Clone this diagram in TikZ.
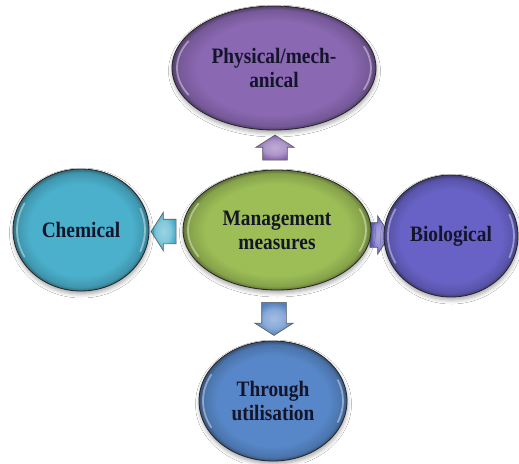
\documentclass[tikz,border=0pt]{standalone}
\usepackage{fontspec}
\setmainfont{Liberation Serif}[FakeStretch=0.88]
\usetikzlibrary{shapes.geometric,shapes.arrows,shadows.blur,calc}

\definecolor{cPhys}{HTML}{8A68B2}
\definecolor{cMgmt}{HTML}{9DBE57}
\definecolor{cChem}{HTML}{4BB0CC}
\definecolor{cBio}{HTML}{6862C6}
\definecolor{cUtil}{HTML}{5787C8}
\definecolor{ink}{HTML}{14142A}

% flat fill with a darker rim near the border
\newcommand\rimshading[2]{%
  \pgfdeclareradialshading{#1}{\pgfpoint{0bp}{0bp}}{%
    color(0bp)=(#2); color(19bp)=(#2); color(23.5bp)=(#2!85!black);
    color(25bp)=(#2!60!black); color(50bp)=(#2!60!black)}}
\rimshading{rimPhys}{cPhys}
\rimshading{rimMgmt}{cMgmt}
\rimshading{rimChem}{cChem}
\rimshading{rimBio}{cBio}
\rimshading{rimUtil}{cUtil}

% arrow fill: lighter body with a soft darker edge
\newcommand\arrowshading[2]{%
  \pgfdeclareradialshading{#1}{\pgfpoint{0bp}{0bp}}{%
    color(0bp)=(#2!55!white); color(14bp)=(#2!70!white);
    color(25bp)=(#2!95!black); color(50bp)=(#2!95!black)}}
\arrowshading{arPhys}{cPhys}
\arrowshading{arChem}{cChem}
\arrowshading{arBio}{cBio}
\arrowshading{arUtil}{cUtil}

% glossy highlights on the inner left and right edge of a bubble
\newcommand\glossrim[3]{%
  \draw[glint] ($(#1.center)+(152:#2 and #3)$)
    arc[start angle=152,end angle=208,x radius=#2,y radius=#3];
  \draw[glint] ($(#1.center)+(-22:#2 and #3)$)
    arc[start angle=-22,end angle=22,x radius=#2,y radius=#3];}

\tikzset{
  bubble/.style={ellipse, draw=black!85, line width=0.8pt, inner sep=0pt,
    shade, shading=#1,
    blur shadow={shadow xshift=0.5pt, shadow yshift=-3pt,
      shadow blur radius=4pt, shadow opacity=35},
    font=\bfseries\fontsize{22}{24}\selectfont, text=ink, align=center},
  glint/.style={white, opacity=0.4, line width=1.8pt, line cap=round},
  blockarrow/.style={single arrow, draw=black!65, line width=0.6pt,
    shade, shading=#1,
    single arrow head extend=7pt, single arrow tip angle=115},
  sidearrow/.style={blockarrow=#1, inner xsep=0pt, inner ysep=12pt},
  uparrow/.style={blockarrow=#1, inner xsep=12pt, inner ysep=0pt},
}

\begin{document}
\begin{tikzpicture}[x=1pt,y=-1pt]
  \fill[white] (0,0) rectangle (519,463);
  \useasboundingbox (0,0) rectangle (519,463);

  % block arrows pointing out from the centre
  \node[uparrow=arPhys, shape border rotate=90, minimum height=25pt]
    (toPhys) at (275,151.5) {};
  \node[sidearrow=arChem, shape border rotate=180, minimum height=25pt]
    (toChem) at (167.5,231.5) {};
  \node[sidearrow=arBio, shape border rotate=0, minimum height=20pt]
    (toBio) at (376,235) {};
  \node[uparrow=arUtil, shape border rotate=270, minimum height=33pt]
    (toUtil) at (274,315) {};

  % bubbles
  \node[bubble=rimPhys, minimum width=204pt, minimum height=124pt]
    (phys) at (274,68) {Physical/mech-\\anical};
  \node[bubble=rimMgmt, minimum width=188pt, minimum height=120pt]
    (mgmt) at (277,230) {Management\\measures};
  \node[bubble=rimChem, minimum width=136pt, minimum height=122pt]
    (chem) at (81,230) {Chemical};
  \node[bubble=rimBio, minimum width=134pt, minimum height=122pt]
    (bio) at (451,236) {Biological};
  \node[bubble=rimUtil, minimum width=148pt, minimum height=120pt]
    (util) at (273,401) {Through\\utilisation};

  \glossrim{phys}{97}{57}
  \glossrim{mgmt}{89}{56}
  \glossrim{chem}{64}{57}
  \glossrim{bio}{63}{57}
  \glossrim{util}{70}{56}
\end{tikzpicture}
\end{document}
